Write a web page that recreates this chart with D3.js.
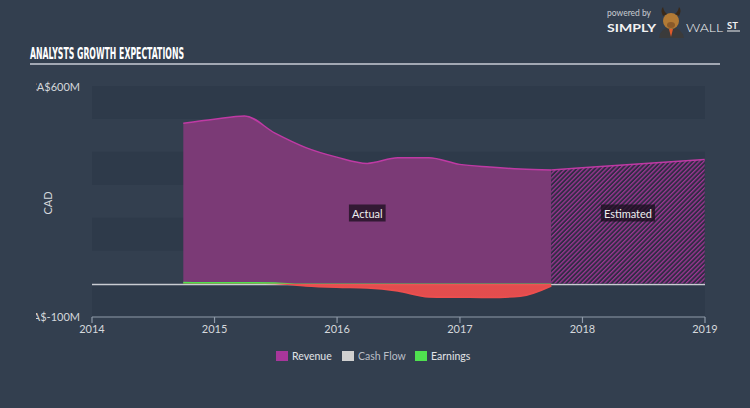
<!DOCTYPE html>
<html><head><meta charset="utf-8">
<script src="https://cdn.jsdelivr.net/npm/d3@7/dist/d3.min.js"></script>
<style>
html,body{margin:0;padding:0;background:#333f4f;}
svg{display:block;font-family:Lato,"Open Sans",sans-serif;}
</style></head><body>
<svg id="c" width="750" height="408"></svg>
<script>
// ---- data ----
const actualDates = ["2014-09-30","2014-12-31","2015-03-31","2015-06-30","2015-09-30","2015-12-31","2016-03-31","2016-06-30","2016-09-30","2016-12-31","2017-03-31","2017-06-30","2017-09-30"];
const revenueActual = [487, 499, 509, 457, 413, 384, 365, 382, 382, 362, 354, 348, 345];
const earningsActual = [3, 2, 2, 1, -7, -11, -13, -22, -40, -41, -42, -38, -7];
const cashFlow = []; // no cash flow marks shown
const estDates = ["2017-09-30","2017-12-31","2018-12-31"];
const revenueEst = [345, 352, 377];
const xTickYears = [2014, 2015, 2016, 2017, 2018, 2019];
const yTickValues = [600, -100];
const yTickLabels = ["CA$600M", "CA$-100M"];
const legendItems = ["Revenue", "Cash Flow", "Earnings"];

const parse = d3.timeParse("%Y-%m-%d");
const svg = d3.select("#c");
const W = 750, H = 408;
const L = 92, R = 705, T = 86, B = 316.5;

svg.append("rect").attr("width", W).attr("height", H).attr("fill", "#333f4f");

const x = d3.scaleTime().domain([new Date(2014,0,1), new Date(2019,0,1)]).range([L, R]);
const y = d3.scaleLinear().domain([-100, 600]).range([B, T]);

const defs = svg.append("defs");
const pat = defs.append("pattern").attr("id","hatch").attr("patternUnits","userSpaceOnUse")
  .attr("width",3.2).attr("height",3.2).attr("patternTransform","rotate(45)");
pat.append("rect").attr("width",3.2).attr("height",3.2).attr("fill","#302c44");
pat.append("rect").attr("width",1.3).attr("height",3.2).attr("fill","#9c3592");

const eg = defs.append("linearGradient").attr("id","eg").attr("gradientUnits","userSpaceOnUse")
  .attr("x1",0).attr("x2",0).attr("y1",y(5)).attr("y2",y(-5));
eg.append("stop").attr("offset","0%").attr("stop-color","#4fe04f");
eg.append("stop").attr("offset","45%").attr("stop-color","#4fe04f");
eg.append("stop").attr("offset","55%").attr("stop-color","#ec4e4e");
eg.append("stop").attr("offset","100%").attr("stop-color","#ec4e4e");

defs.append("clipPath").attr("id","lclip").append("rect").attr("x",36).attr("y",0).attr("width",100).attr("height",H);

// bands
const bandLows = d3.range(-100, 600, 100);
svg.append("g").selectAll("rect").data(bandLows.filter((d,i)=>i%2===0)).join("rect")
  .attr("x", L).attr("width", R-L)
  .attr("y", d=>y(d+100)).attr("height", d=>y(d)-y(d+100))
  .attr("fill", "#2e3a4a");

// zero line
svg.append("line").attr("x1",L).attr("x2",R).attr("y1",y(0)+1).attr("y2",y(0)+1)
  .attr("stroke","#c9ccd2").attr("stroke-width",1.6);

const act = actualDates.map((d,i)=>({date:parse(d), rev:revenueActual[i], earn:earningsActual[i]}));
const est = estDates.map((d,i)=>({date:parse(d), rev:revenueEst[i]}));
const curve = d3.curveMonotoneX;

const area = d3.area().x(d=>x(d.date)).y0(y(0)).y1(d=>y(d.rev)).curve(curve);
const line = d3.line().x(d=>x(d.date)).y(d=>y(d.rev)).curve(curve);

svg.append("path").datum(act).attr("d", area).attr("fill", "#7b3a76");
svg.append("path").datum(est).attr("d", area).attr("fill", "url(#hatch)");
svg.append("path").datum(act).attr("d", line).attr("fill","none").attr("stroke","#bf3aa4").attr("stroke-width",1.5);
svg.append("path").datum(est).attr("d", line).attr("fill","none").attr("stroke","#bf3aa4").attr("stroke-width",1.5);

// earnings
const eArea = d3.area().x(d=>x(d.date)).y0(y(0)).y1(d=>y(d.earn)).curve(curve);
const eLine = d3.line().x(d=>x(d.date)).y(d=>y(d.earn)).curve(curve);
svg.append("path").datum(act).attr("d", eArea).attr("fill","url(#eg)").attr("opacity",0.95);
svg.append("path").datum(act).attr("d", eLine).attr("fill","none").attr("stroke","url(#eg)").attr("stroke-width",1.8);

// labels Actual / Estimated
function tag(cx, cy, text){
  const g = svg.append("g");
  const t = g.append("text").attr("x",cx).attr("y",cy).attr("text-anchor","middle")
    .attr("dominant-baseline","central").attr("font-size",11).attr("fill","#eeeeee").text(text);
  const bb = t.node().getBBox();
  g.insert("rect","text").attr("x",bb.x-3).attr("y",cy-8.5).attr("width",bb.width+6).attr("height",17)
    .attr("fill","rgba(25,15,30,0.75)");
}
tag((x(act[0].date)+x(act[act.length-1].date))/2, 213, "Actual");
tag((x(est[0].date)+x(est[est.length-1].date))/2, 213, "Estimated");

// x axis
const xa = svg.append("g");
xa.append("line").attr("x1",L).attr("x2",R).attr("y1",317).attr("y2",317).attr("stroke","#8e99a8").attr("stroke-width",1.2);
xa.selectAll("line.t").data(xTickYears).join("line").attr("class","t")
  .attr("x1",d=>x(new Date(d,0,1))).attr("x2",d=>x(new Date(d,0,1)))
  .attr("y1",317).attr("y2",323).attr("stroke","#8e99a8").attr("stroke-width",1.2);
xa.selectAll("text").data(xTickYears).join("text")
  .attr("x",d=>x(new Date(d,0,1))).attr("y",333).attr("text-anchor","middle")
  .attr("font-size",11).attr("fill","#d5d8dc").text(d=>d);

// y labels
const ya = svg.append("g").attr("clip-path","url(#lclip)");
ya.selectAll("text").data(yTickValues).join("text")
  .attr("x",80).attr("y",d=>y(d)).attr("text-anchor","end").attr("dominant-baseline","central")
  .attr("font-size",11).attr("fill","#d5d8dc").text((d,i)=>yTickLabels[i]);
svg.append("text").attr("transform","translate(52,203) rotate(-90)").attr("text-anchor","middle")
  .attr("font-size",11).attr("fill","#d5d8dc").text("CAD");

// title
svg.append("text").attr("x",30).attr("y",59).attr("font-family","'Liberation Sans Narrow','DejaVu Sans Condensed',sans-serif")
  .attr("font-weight","bold").attr("font-size",15).attr("fill","#ffffff")
  .attr("textLength",154).attr("lengthAdjust","spacingAndGlyphs").text("ANALYSTS GROWTH EXPECTATIONS");
svg.append("line").attr("x1",30).attr("x2",720).attr("y1",64).attr("y2",64).attr("stroke","#c8cdd4").attr("stroke-width",1.5);

// legend
const legColors = ["#a8369b", "#d0d0d0", "#4fe04f"];
const legX = [276, 342, 415];
const lg = svg.append("g");
legendItems.forEach((name,i)=>{
  lg.append("rect").attr("x",legX[i]).attr("y",351).attr("width",12).attr("height",10).attr("fill",legColors[i]);
  lg.append("text").attr("x",legX[i]+16).attr("y",356).attr("dominant-baseline","central")
    .attr("font-size",10.5).attr("fill", i===1 ? "#b9bec6" : "#e2e4e7").text(name);
});

// logo
const lo = svg.append("g");
lo.append("text").attr("x",607).attr("y",16).attr("font-size",8.5).attr("fill","#c9ccd2").text("powered by");
lo.append("text").attr("x",607).attr("y",31.5).attr("font-size",12).attr("font-weight","bold").attr("fill","#f2f2f2")
  .attr("textLength",49).attr("lengthAdjust","spacingAndGlyphs").text("SIMPLY");
lo.append("text").attr("x",686).attr("y",31.5).attr("font-size",12).attr("font-weight","300").attr("fill","#f2f2f2")
  .attr("textLength",37).attr("lengthAdjust","spacingAndGlyphs").text("WALL");
lo.append("text").attr("x",727).attr("y",29).attr("font-size",9.5).attr("font-weight","bold").attr("fill","#f2f2f2").text("ST");
lo.append("line").attr("x1",727).attr("x2",740).attr("y1",31).attr("y2",31).attr("stroke","#f2f2f2").attr("stroke-width",1);
// bull
lo.append("path").attr("d","M659,38 Q660,28 671,27 Q682,28 684,38 Z").attr("fill","#3b3b3b");
lo.append("path").attr("d","M669,29 L671,37 L673,29 Z").attr("fill","#e05a2a");
lo.append("ellipse").attr("cx",671).attr("cy",21).attr("rx",8).attr("ry",8).attr("fill","#b27a35");
lo.append("path").attr("d","M663,16 Q660,10 663,7 Q664,12 667,14 Z").attr("fill","#3a2a1a");
lo.append("path").attr("d","M679,16 Q682,10 679,7 Q678,12 675,14 Z").attr("fill","#3a2a1a");
lo.append("ellipse").attr("cx",671).attr("cy",25).attr("rx",4).attr("ry",3).attr("fill","#8a5a2a");
</script>
</body></html>
